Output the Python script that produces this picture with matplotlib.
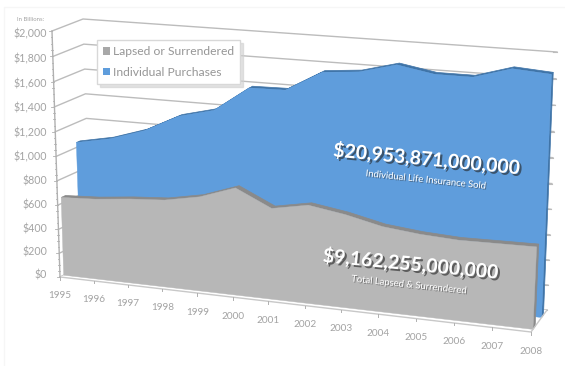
import numpy as np
import matplotlib
matplotlib.use('Agg')
import matplotlib.pyplot as plt
import matplotlib.patheffects as pe
from matplotlib.patches import Patch, Polygon

plt.rcParams['font.family'] = ['Lato', 'DejaVu Sans']

years = list(range(1995, 2009))
lapsed = [650, 665, 695, 715, 770, 870, 735, 790, 745, 680, 650, 635, 640, 645]
purchases = [1040, 1095, 1185, 1325, 1395, 1595, 1600, 1760, 1785, 1860, 1810, 1810, 1895, 1875]
value_ticks = [0, 200, 400, 600, 800, 1000, 1200, 1400, 1600, 1800, 2000]
value_labels = ['$0', '$200', '$400', '$600', '$800', '$1,000', '$1,200', '$1,400',
                '$1,600', '$1,800', '$2,000']

GRAY, GRAY_DARK = '#b7b7b7', '#8a8a8a'
BLUE, BLUE_DARK = '#5f9ddc', '#3f74a8'
TEXT = '#a3a3a3'
GRID = '#bcbcbc'
VMAX = 2000.0
N = len(years) - 1


def homography(corners):
    # corners for (u, v) = (0,0), (0,1), (1,0), (1,1)
    rows, rhs = [], []
    for (u, v), (px, py) in zip([(0, 0), (0, 1), (1, 0), (1, 1)], corners):
        rows.append([u, v, 1, 0, 0, 0, -u * px, -v * px])
        rows.append([0, 0, 0, u, v, 1, -u * py, -v * py])
        rhs += [px, py]
    h = np.linalg.solve(np.array(rows, float), np.array(rhs, float))
    return np.append(h, 1).reshape(3, 3)


# perspective of the chart box: front and back planes in figure pixels
FRONT = homography([(60, 277), (52, 31), (531, 332), (543, 68)])
BACK = homography([(91, 262), (83, 19), (547, 310), (557, 52)])


def project(i, value, depth=0.0):
    i = np.asarray(i, float)
    value = np.asarray(value, float)
    uv = np.stack([i / N, value / VMAX, np.ones_like(i + value)])
    f = FRONT @ uv
    b = BACK @ uv
    f = f[:2] / f[2]
    b = b[:2] / b[2]
    return (1 - depth) * f + depth * b


def poly(ax, xy, **kw):
    ax.add_patch(Polygon(np.column_stack(xy), closed=True, **kw))


def draw_area(ax, values, d0, d1, face, dark, z):
    idx = np.arange(len(values))
    zero = np.zeros(len(values))
    top0, top1 = project(idx, values, d0), project(idx, values, d1)
    base0 = project(idx, zero, d0)
    # top and right sides first, front face over them
    poly(ax, np.hstack([top0, top1[:, ::-1]]), fc=dark, ec=dark, lw=0.5, zorder=z)
    right = np.column_stack([top0[:, -1], top1[:, -1],
                             project(N, 0, d1), project(N, 0, d0)])
    poly(ax, right, fc=dark, ec=dark, lw=0.5, zorder=z)
    poly(ax, np.hstack([top0, base0[:, ::-1]]), fc=face, ec=face, lw=0.3, zorder=z + 0.1)


fig = plt.figure(figsize=(5.65, 3.66), dpi=100)
ax = fig.add_axes([0, 0, 1, 1])
ax.set_xlim(0, 565)
ax.set_ylim(366, 0)
ax.axis('off')

# faint frame around the slide
ax.plot([4, 4, 565], [366, 7, 7], color='#f6f6f6', lw=1, zorder=0)

# gridlines run along the left wall and then the back wall
for v in value_ticks:
    a = project(0, v, 0)
    b = project(0, v, 1)
    c = project(N, v, 1)
    ax.plot([a[0], b[0], c[0]], [a[1], b[1], c[1]], color=GRID, lw=1.0, zorder=1)

# right wall tick marks
for v in np.arange(0, 2001, 200):
    c = project(N, v, 1)
    ax.plot([c[0] - 4, c[0]], [c[1], c[1]], color=GRID, lw=0.8, zorder=1)

# floor
floor = np.column_stack([project(0, 0, 0), project(N, 0, 0), project(N, 0, 1), project(0, 0, 1)])
poly(ax, floor, fc='white', ec='none', zorder=1.5)

draw_area(ax, purchases, 0.66, 0.78, BLUE, BLUE_DARK, 2)
draw_area(ax, lapsed, 0.12, 0.26, GRAY, GRAY_DARK, 3)

# front edge of the floor, right edge and the value axis
edge = np.column_stack([project(0, 0, 0), project(N, 0, 0), project(N, 0, 1)])
ax.plot(edge[0], edge[1], color='#c8c8c8', lw=1.0, zorder=4)
axis = project(np.array([0.0, 0.0]), np.array([0.0, VMAX]), 0)
ax.plot(axis[0], axis[1], color='#b0b0b0', lw=1.0, zorder=4)

# value ticks with minor marks between them, labels right aligned
for v in np.arange(0, 2001, 50):
    px, py = project(0, v, 0)
    ln = 3 if v % 200 == 0 else 1.5
    ax.plot([px - ln, px], [py, py], color='#b0b0b0', lw=0.6, zorder=4)
for v, lab in zip(value_ticks, value_labels):
    py = project(0, v, 0)[1]
    ax.text(47, py - 1.5 + 4 * v / VMAX, lab, ha='right', va='center', fontsize=7.7, color=TEXT)
ax.text(31, 19.5, 'In Billions:', ha='center', va='center', fontsize=4.3, color=TEXT)

# year ticks and labels follow the floor edge
for i, yr in enumerate(years):
    px, py = project(i, 0, 0)
    ax.plot([px, px], [py, py + 2.5], color='#b0b0b0', lw=0.7, zorder=4)
    ax.text(px, py + 19, str(yr), ha='center', va='center', fontsize=7.2, color=TEXT)

handles = [Patch(fc='#a8a8a8', ec='none', label='Lapsed or Surrendered'),
           Patch(fc=BLUE, ec='none', label='Individual Purchases')]
leg = ax.legend(handles=handles, loc='upper left', bbox_to_anchor=(97, 40),
                bbox_transform=ax.transData, borderaxespad=0, fontsize=8.7,
                labelcolor='#969696', fancybox=False, framealpha=1, edgecolor='#d8d8d8',
                handlelength=0.6, handleheight=0.6, handletextpad=0.2,
                labelspacing=0.8, borderpad=0.5,
                shadow={'color': '#d0d0d0', 'alpha': 0.6})
leg.set_zorder(6)

big_shadow = [pe.withSimplePatchShadow(offset=(1.5, -1.5), shadow_rgbFace='#222222', alpha=0.6)]
small_shadow = [pe.withSimplePatchShadow(offset=(0.7, -0.7), shadow_rgbFace='#333333', alpha=0.5)]
text_opts = dict(ha='center', va='center', color='white', rotation_mode='anchor', zorder=7)
ax.text(427, 159, '$20,953,871,000,000', fontsize=14, fontweight='bold', rotation=-5.5,
        path_effects=big_shadow, **text_opts)
ax.text(426, 180, 'Individual Life Insurance Sold', fontsize=6.8, rotation=-6,
        path_effects=small_shadow, **text_opts)
ax.text(411, 264, '$9,162,255,000,000', fontsize=14, fontweight='bold', rotation=-5.5,
        path_effects=big_shadow, **text_opts)
ax.text(409, 285, 'Total Lapsed & Surrendered', fontsize=6.8, rotation=-6,
        path_effects=small_shadow, **text_opts)

fig.savefig('out.png', dpi=100)
